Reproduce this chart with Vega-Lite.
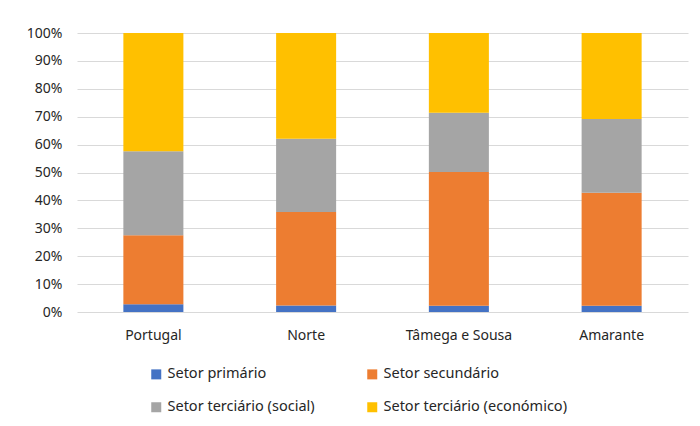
{
  "$schema": "https://vega.github.io/schema/vega-lite/v6.json",
  "width": 611,
  "height": 279,
  "autosize": {"type": "none"},
  "padding": {"left": 77, "top": 33, "right": 12, "bottom": 114},
  "background": "white",
  "data": {
    "values": [
      {"regiao": "Portugal", "setor": "Setor primário", "ordem": 1, "pct": 2.8},
      {"regiao": "Portugal", "setor": "Setor secundário", "ordem": 2, "pct": 24.7},
      {"regiao": "Portugal", "setor": "Setor terciário (social)", "ordem": 3, "pct": 30.1},
      {"regiao": "Portugal", "setor": "Setor terciário (económico)", "ordem": 4, "pct": 42.4},
      {"regiao": "Norte", "setor": "Setor primário", "ordem": 1, "pct": 2.3},
      {"regiao": "Norte", "setor": "Setor secundário", "ordem": 2, "pct": 33.5},
      {"regiao": "Norte", "setor": "Setor terciário (social)", "ordem": 3, "pct": 26.3},
      {"regiao": "Norte", "setor": "Setor terciário (económico)", "ordem": 4, "pct": 37.9},
      {"regiao": "Tâmega e Sousa", "setor": "Setor primário", "ordem": 1, "pct": 2.2},
      {"regiao": "Tâmega e Sousa", "setor": "Setor secundário", "ordem": 2, "pct": 48.0},
      {"regiao": "Tâmega e Sousa", "setor": "Setor terciário (social)", "ordem": 3, "pct": 21.2},
      {"regiao": "Tâmega e Sousa", "setor": "Setor terciário (económico)", "ordem": 4, "pct": 28.6},
      {"regiao": "Amarante", "setor": "Setor primário", "ordem": 1, "pct": 2.2},
      {"regiao": "Amarante", "setor": "Setor secundário", "ordem": 2, "pct": 40.5},
      {"regiao": "Amarante", "setor": "Setor terciário (social)", "ordem": 3, "pct": 26.5},
      {"regiao": "Amarante", "setor": "Setor terciário (económico)", "ordem": 4, "pct": 30.8}
    ]
  },
  "mark": {"type": "bar"},
  "encoding": {
    "x": {
      "field": "regiao",
      "type": "nominal",
      "sort": null,
      "title": null,
      "scale": {"paddingInner": 0.607, "paddingOuter": 0.3035},
      "axis": {
        "labelAngle": 0,
        "domain": false,
        "ticks": false,
        "grid": false,
        "labelPadding": 16,
        "labelFontSize": 14,
        "labelColor": "#262626"
      }
    },
    "y": {
      "field": "pct",
      "type": "quantitative",
      "stack": "normalize",
      "title": null,
      "scale": {"domain": [0, 1], "nice": false},
      "axis": {
        "values": [0, 0.1, 0.2, 0.3, 0.4, 0.5, 0.6, 0.7, 0.8, 0.9, 1],
        "format": ".0%",
        "domain": false,
        "ticks": false,
        "labelPadding": 15,
        "labelFontSize": 14,
        "labelColor": "#262626",
        "gridColor": "#d9d9d9",
        "gridWidth": 1
      }
    },
    "color": {
      "field": "setor",
      "type": "nominal",
      "title": null,
      "scale": {
        "domain": ["Setor primário", "Setor secundário", "Setor terciário (social)", "Setor terciário (económico)"],
        "range": ["#4472C4", "#ED7D31", "#A5A5A5", "#FFC000"]
      },
      "legend": {
        "orient": "none",
        "legendX": 72,
        "legendY": 334,
        "direction": "horizontal",
        "columns": 2,
        "columnPadding": 50,
        "rowPadding": 18,
        "symbolType": "square",
        "symbolSize": 100,
        "symbolStrokeWidth": 0,
        "labelFontSize": 14.5,
        "labelLimit": 400,
        "labelColor": "#262626",
        "labelOffset": 4,
        "padding": 0
      }
    },
    "order": {"field": "ordem", "type": "quantitative"}
  },
  "config": {
    "font": "Noto Sans",
    "view": {"stroke": null}
  }
}
